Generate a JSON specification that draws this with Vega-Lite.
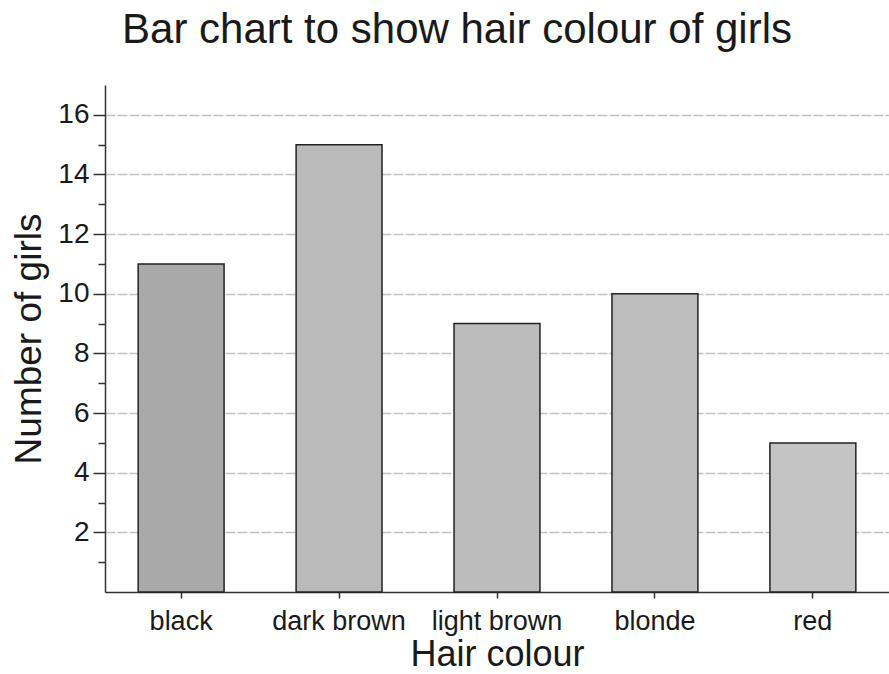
{
  "$schema": "https://vega.github.io/schema/vega-lite/v6.json",
  "autosize": {"type": "none"},
  "padding": {"left": 105, "top": 85, "right": 0, "bottom": 82},
  "width": 784,
  "height": 507,
  "background": "white",
  "title": {
    "text": "Bar chart to show hair colour of girls",
    "font": "Liberation Sans",
    "fontSize": 42,
    "fontWeight": "normal",
    "color": "#1a1a1a",
    "anchor": "middle",
    "dx": -40,
    "baseline": "alphabetic",
    "offset": 0
  },
  "data": {
    "values": [
      {"colour": "black", "girls": 11},
      {"colour": "dark brown", "girls": 15},
      {"colour": "light brown", "girls": 9},
      {"colour": "blonde", "girls": 10},
      {"colour": "red", "girls": 5}
    ]
  },
  "config": {
    "view": {"stroke": null},
    "axis": {
      "labelFont": "Liberation Sans",
      "titleFont": "Liberation Sans",
      "labelColor": "#1a1a1a",
      "titleColor": "#1a1a1a",
      "titleFontWeight": "normal",
      "domainColor": "#333333",
      "domainWidth": 1.5,
      "tickColor": "#333333",
      "tickWidth": 1.5
    }
  },
  "mark": {"type": "bar", "stroke": "#222222", "strokeWidth": 1.5},
  "encoding": {
    "x": {
      "field": "colour",
      "type": "nominal",
      "sort": null,
      "scale": {"paddingInner": 0.456, "paddingOuter": 0.21},
      "axis": {
        "title": "Hair colour",
        "titleFontSize": 36,
        "titlePadding": 3,
        "labelFontSize": 27,
        "labelAngle": 0,
        "labelPadding": 10,
        "tickSize": 6,
        "grid": false
      }
    },
    "y": {
      "field": "girls",
      "type": "quantitative",
      "scale": {"domain": [0, 17], "nice": false},
      "axis": {
        "title": "Number of girls",
        "titleFontSize": 37,
        "titlePadding": 9,
        "labelFontSize": 28,
        "labelPadding": 4,
        "values": [1, 2, 3, 4, 5, 6, 7, 8, 9, 10, 11, 12, 13, 14, 15, 16],
        "labelExpr": "datum.value % 2 == 0 ? datum.label : ''",
        "tickSize": {"condition": {"test": "datum.value % 2 == 0", "value": 12}, "value": 7},
        "grid": true,
        "gridColor": "#c4c4c4",
        "gridWidth": 1.5,
        "gridDash": [10, 2],
        "gridOpacity": {"condition": {"test": "datum.value % 2 == 0", "value": 1}, "value": 0}
      }
    },
    "color": {
      "field": "colour",
      "type": "nominal",
      "sort": null,
      "legend": null,
      "scale": {
        "domain": ["black", "dark brown", "light brown", "blonde", "red"],
        "range": ["#a9a9a9", "#bababa", "#bcbcbc", "#bdbdbd", "#c4c4c4"]
      }
    }
  }
}
